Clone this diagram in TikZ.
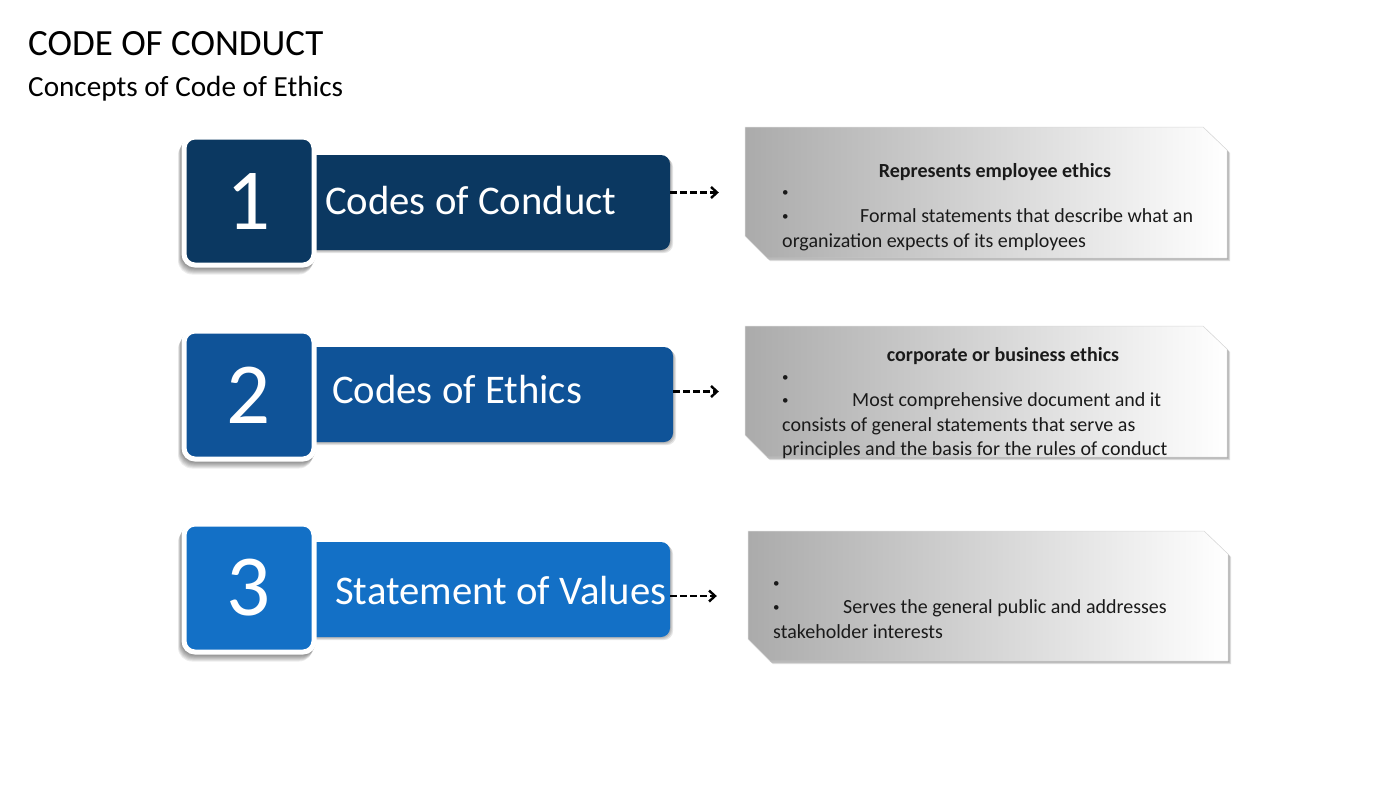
\documentclass[tikz,border=0pt]{standalone}
\usepackage{fontspec}
\setmainfont{Carlito}
\usetikzlibrary{arrows.meta}
\definecolor{navyA}{HTML}{0B3861}
\definecolor{navyB}{HTML}{0F5398}
\definecolor{navyC}{HTML}{1370C6}
\definecolor{txt}{HTML}{1A1A1A}
\begin{document}
\begin{tikzpicture}[x=1pt,y=-1pt,
  holder/.style={draw=none, inner sep=0pt},
  numtxt/.style={draw=none, inner sep=0pt, text=white, font=\fontsize{87}{87}\selectfont},
  sqframe/.style={draw=white, line width=5pt, rounded corners=11pt},
  sqshadow/.style={fill=black, opacity=0.07, rounded corners=14pt},
  barshape/.style={rounded corners=9pt},
  barshadow/.style={fill=black, opacity=0.10, rounded corners=9pt},
  barlabel/.style={anchor=base west, inner sep=0pt, text=white, font=\fontsize{40.7}{46}\selectfont},
  boxshade/.style={left color=gray!66, middle color=gray!20, right color=white, draw=gray!30, line width=0.5pt},
  boxshadow/.style={fill=black, opacity=0.13},
  boxtxt/.style={anchor=base west, inner sep=0pt, text=txt, font=\fontsize{20}{24}\selectfont},
  bul/.style={anchor=base west, inner sep=0pt, text=txt, font=\fontsize{13}{16}\selectfont},
  boxhead/.style={anchor=base, inner sep=0pt, text=txt, font=\fontsize{20}{24}\selectfont\bfseries},
  conn/.style={dash pattern=on 7pt off 3pt, line width=2.6pt, black,
    -{Straight Barb[length=6pt,width=11pt,line width=2.4pt]}}
]
\useasboundingbox (0,0) rectangle (1400,788);
\fill[white] (0,0) rectangle (1400,788);

% titles
\node[anchor=base west, inner sep=0pt, font=\fontsize{37}{40}\selectfont] (title) at (28,55) {CODE OF CONDUCT};
\node[anchor=base west, inner sep=0pt, font=\fontsize{29.2}{32}\selectfont] (subtitle) at (28,96) {Concepts of Code of Ethics};

% ================= row 1
\foreach \k in {1,2,3} {\fill[barshadow] (300+\k,155+\k) rectangle (670+\k,250+\k);}
\fill[navyA, barshape] (300,155) rectangle (670,250);
\node[holder, minimum width=370pt, minimum height=95pt] (bar1) at (485,202.5) {};
\foreach \k in {1,...,7} {\fill[sqshadow] (181.5-0.5*\k,134.5+\k) rectangle (316.5-0.5*\k,267.5+\k);}
\filldraw[fill=navyA, sqframe] (184,137) rectangle (314,265);
\node[numtxt] (num1) at (249,201) {1};
\node[barlabel] (lab1) at (325,214) {Codes of Conduct};
\foreach \k in {1,2,3} {\fill[boxshadow] (745+\k,127+\k) -- (1203+\k,127+\k) -- (1227+\k,150+\k) -- (1227+\k,258+\k) -- (767+\k,258+\k) -- (745+\k,236+\k) -- cycle;}
\path[boxshade] (745,127) -- (1203,127) -- (1227,150) -- (1227,258) -- (767,258) -- (745,236) -- cycle;
\node[holder, minimum width=482pt, minimum height=131pt] (box1) at (986,192.5) {};
\node[boxhead] (h1) at (995,177) {Represents employee ethics};
\node[bul] (b1a) at (782,196) {•};
\node[bul] (b1b) at (782,220) {•};
\node[boxtxt] (t1a) at (860,222) {Formal statements that describe what an};
\node[boxtxt] (t1b) at (782,247) {organization expects of its employees};
\draw[conn] (bar1.east |- box1.west) -- ([xshift=-26pt]box1.west);

% ================= row 2
\foreach \k in {1,2,3} {\fill[barshadow] (300+\k,347+\k) rectangle (673+\k,442+\k);}
\fill[navyB, barshape] (300,347) rectangle (673,442);
\node[holder, minimum width=373pt, minimum height=95pt] (bar2) at (486.5,394.5) {};
\foreach \k in {1,...,7} {\fill[sqshadow] (181.5-0.5*\k,328.5+\k) rectangle (316.5-0.5*\k,461.5+\k);}
\filldraw[fill=navyB, sqframe] (184,331) rectangle (314,459);
\node[numtxt] (num2) at (249,395) {2};
\node[barlabel] (lab2) at (332,403) {Codes of Ethics};
\foreach \k in {1,2,3} {\fill[boxshadow] (745+\k,326+\k) -- (1203+\k,326+\k) -- (1227+\k,349+\k) -- (1227+\k,457+\k) -- (767+\k,457+\k) -- (745+\k,435+\k) -- cycle;}
\path[boxshade] (745,326) -- (1203,326) -- (1227,349) -- (1227,457) -- (767,457) -- (745,435) -- cycle;
\node[holder, minimum width=482pt, minimum height=131pt] (box2) at (986,391.5) {};
\node[boxhead] (h2) at (1003,361) {corporate or business ethics};
\node[bul] (b2a) at (782,381) {•};
\node[bul] (b2b) at (782,404) {•};
\node[boxtxt] (t2a) at (852,406) {Most comprehensive document and it};
\node[boxtxt] (t2b) at (782,431) {consists of general statements that serve as};
\node[boxtxt] (t2c) at (782,455) {principles and the basis for the rules of conduct};
\draw[conn] (bar2.east |- box2.west) -- ([xshift=-26pt]box2.west);

% ================= row 3
\foreach \k in {1,2,3} {\fill[barshadow] (300+\k,542+\k) rectangle (670+\k,637+\k);}
\fill[navyC, barshape] (300,542) rectangle (670,637);
\node[holder, minimum width=370pt, minimum height=95pt] (bar3) at (485,589.5) {};
\foreach \k in {1,...,7} {\fill[sqshadow] (181.5-0.5*\k,521.5+\k) rectangle (316.5-0.5*\k,654.5+\k);}
\filldraw[fill=navyC, sqframe] (184,524) rectangle (314,652);
\node[numtxt] (num3) at (249,588) {3};
\node[barlabel] (lab3) at (335,604) {Statement of Values};
\foreach \k in {1,2,3} {\fill[boxshadow] (748+\k,531+\k) -- (1204+\k,531+\k) -- (1228+\k,554+\k) -- (1228+\k,661+\k) -- (770+\k,661+\k) -- (748+\k,639+\k) -- cycle;}
\path[boxshade] (748,531) -- (1204,531) -- (1228,554) -- (1228,661) -- (770,661) -- (748,639) -- cycle;
\node[holder, minimum width=480pt, minimum height=130pt] (box3) at (988,596) {};
\node[bul] (b3a) at (773,587) {•};
\node[bul] (b3b) at (773,611) {•};
\node[boxtxt] (t3a) at (843,613) {Serves the general public and addresses};
\node[boxtxt] (t3b) at (773,638) {stakeholder interests};
\draw[conn] (bar3.east |- box3.west) -- ([xshift=-31pt]box3.west);
\end{tikzpicture}
\end{document}
